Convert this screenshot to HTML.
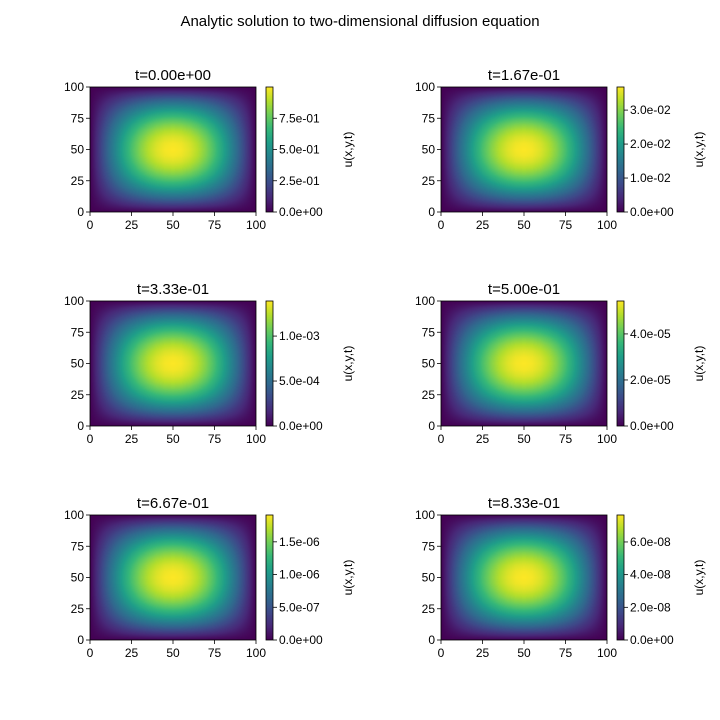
<!DOCTYPE html>
<html><head><meta charset="utf-8">
<style>
body{margin:0;background:#fff;}
#wrap{position:relative;width:720px;height:720px;overflow:hidden;font-family:"Liberation Sans",sans-serif;}
canvas{position:absolute;}
svg{position:absolute;left:0;top:0;}
</style></head>
<body>
<div id="wrap">
<svg id="svg" width="720" height="720"></svg>
</div>
<script>
// Data
const times = ["0.00e+00","1.67e-01","3.33e-01","5.00e-01","6.67e-01","8.33e-01"];
const maxValues = [1.0, 0.0368, 0.00139, 0.0000543, 0.00000191, 0.0000000765];
const cbTickValues = [
  [0, 0.25, 0.5, 0.75],
  [0, 0.01, 0.02, 0.03],
  [0, 0.0005, 0.001],
  [0, 0.00002, 0.00004],
  [0, 0.0000005, 0.000001, 0.0000015],
  [0, 0.00000002, 0.00000004, 0.00000006]
];
const cbTickLabels = [
  ["0.0e+00","2.5e-01","5.0e-01","7.5e-01"],
  ["0.0e+00","1.0e-02","2.0e-02","3.0e-02"],
  ["0.0e+00","5.0e-04","1.0e-03"],
  ["0.0e+00","2.0e-05","4.0e-05"],
  ["0.0e+00","5.0e-07","1.0e-06","1.5e-06"],
  ["0.0e+00","2.0e-08","4.0e-08","6.0e-08"]
];
const axisTicks = [0,25,50,75,100];
// spatial profile sampled at x = 0,5,...,100 (normalized)
const profile = [0,0.156,0.309,0.454,0.588,0.707,0.809,0.891,0.951,0.988,1,0.988,0.951,0.891,0.809,0.707,0.588,0.454,0.309,0.156,0];
const viridis = [[68,1,84],[72,40,120],[62,73,137],[49,104,142],[38,130,142],[31,158,137],[53,183,121],[109,205,89],[180,222,44],[253,231,37]];

const NS="http://www.w3.org/2000/svg";
const svg=document.getElementById('svg');
const wrap=document.getElementById('wrap');
function el(tag,attrs,parent){const e=document.createElementNS(NS,tag);for(const k in attrs)e.setAttribute(k,attrs[k]);(parent||svg).appendChild(e);return e;}
function txt(x,y,s,size,anchor,parent,rot){const t=el('text',{x:x,y:y,'font-size':size,'text-anchor':anchor||'middle','fill':'#000','font-family':'Liberation Sans, sans-serif'},parent);if(rot)t.setAttribute('transform',`rotate(${rot} ${x} ${y})`);t.textContent=s;return t;}
function cmap(v){v=Math.max(0,Math.min(1,v))*(viridis.length-1);const i=Math.min(Math.floor(v),viridis.length-2);const f=v-i;return viridis[i].map((c,k)=>Math.round(c+(viridis[i+1][k]-c)*f));}
function prof(u){const p=u*(profile.length-1);const i=Math.min(Math.floor(p),profile.length-2);const f=p-i;return profile[i]+(profile[i+1]-profile[i])*f;}

const t0=txt(360,26,"Analytic solution to two-dimensional diffusion equation",15);


const colX=[90,441], rowY=[87,301,515], W=166, H=125;
times.forEach((tm,idx)=>{
  const ax=colX[idx%2], ay=rowY[Math.floor(idx/2)];
  const g=el('g',{});
  
  
  // heatmap canvas
  const c=document.createElement('canvas');c.width=W;c.height=H;c.style.left=ax+'px';c.style.top=ay+'px';
  
  
  wrap.insertBefore(c,svg);
  const ctx=c.getContext('2d');const img=ctx.createImageData(W,H);
  for(let y=0;y<H;y++)for(let x=0;x<W;x++){const v=prof((x+0.5)/W)*prof((y+0.5)/H);const col=cmap(v);const o=(y*W+x)*4;img.data[o]=col[0];img.data[o+1]=col[1];img.data[o+2]=col[2];img.data[o+3]=255;}
  ctx.putImageData(img,0,0);
  el('rect',{x:ax,y:ay,width:W,height:H,fill:'none',stroke:'#000','stroke-width':0.8},g);
  const tt=txt(ax+W/2,ay-7,'t='+tm,15,'middle',g);
  
  axisTicks.forEach(v=>{
    const x=ax+v/100*W;el('line',{x1:x,y1:ay+H,x2:x,y2:ay+H+4,stroke:'#000','stroke-width':0.8},g);
    txt(x,ay+H+17,String(v),12,'middle',g);
    const y=ay+H-v/100*H;el('line',{x1:ax-4,y1:y,x2:ax,y2:y,stroke:'#000','stroke-width':0.8},g);
    txt(ax-6,y+4,String(v),12,'end',g);
  });
  // colorbar
  const cx=ax+176, cw=7;
  const cc=document.createElement('canvas');cc.width=cw;cc.height=H;cc.style.left=cx+'px';cc.style.top=ay+'px';
  
  
  wrap.insertBefore(cc,svg);
  const c2=cc.getContext('2d');
  for(let y=0;y<H;y++){const col=cmap(1-(y+0.5)/H);c2.fillStyle=`rgb(${col})`;c2.fillRect(0,y,cw,1);}
  el('rect',{x:cx,y:ay,width:cw,height:H,fill:'none',stroke:'#000','stroke-width':0.8},g);
  cbTickValues[idx].forEach((v,k)=>{
    const y=ay+H-v/maxValues[idx]*H;
    el('line',{x1:cx+cw,y1:y,x2:cx+cw+4,y2:y,stroke:'#000','stroke-width':0.8},g);
    txt(cx+cw+6,y+4,cbTickLabels[idx][k],12,'start',g);
  });
  const lb=txt(ax+262,ay+H/2,'u(x,y,t)',12,'middle',g,-90);
  
});
</script>
</body></html>
